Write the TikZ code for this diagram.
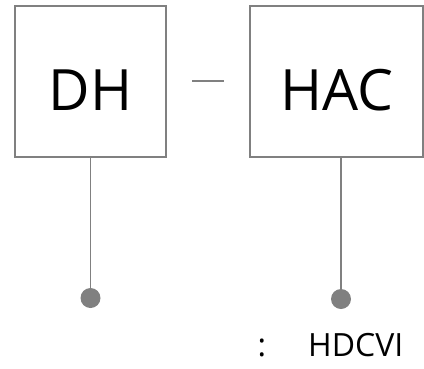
\documentclass[tikz,border=0pt]{standalone}
\usepackage{fontspec}
\setmainfont{Open Sans}
\definecolor{edgegray}{HTML}{808080}
\begin{document}
\begin{tikzpicture}[x=1pt,y=-1pt,
  box/.style={draw=edgegray,line width=1.5pt,inner sep=0pt},
  big/.style={inner sep=0pt,anchor=base,font=\fontsize{57}{60}\selectfont},
  wire/.style={draw=edgegray,line width=1.5pt},
  dot/.style={circle,fill=edgegray,inner sep=0pt,minimum size=20pt},
  lbl/.style={inner sep=0pt,font=\fontsize{32}{36}\selectfont}]
\useasboundingbox (0,0) rectangle (424,368);
\node[box,minimum width=151pt,minimum height=151pt] (dh) at (90.5,81.5) {};
\node[box,minimum width=173pt,minimum height=151pt] (hac) at (336.5,81.5) {};
\node[big] (dhtext) at (90.5,110) {DH};
\node[big] (hactext) at (336.5,110) {HAC};
\coordinate (la) at (192,81);
\coordinate (lb) at (224,81);
\draw[wire] (la) -- (lb);
\node[dot] (d1) at (90.5,298) {};
\node[dot] (d2) at (341,299) {};
\draw[wire] (dh.south -| d1) -- (d1);
\draw[wire] (hac.south -| d2) -- (d2);
\node[lbl,anchor=base] (colon) at (262,356.5) {:};
\node[lbl,anchor=base west] (hdcvi) at (308,356.5) {HDCVI};
\end{tikzpicture}
\end{document}
